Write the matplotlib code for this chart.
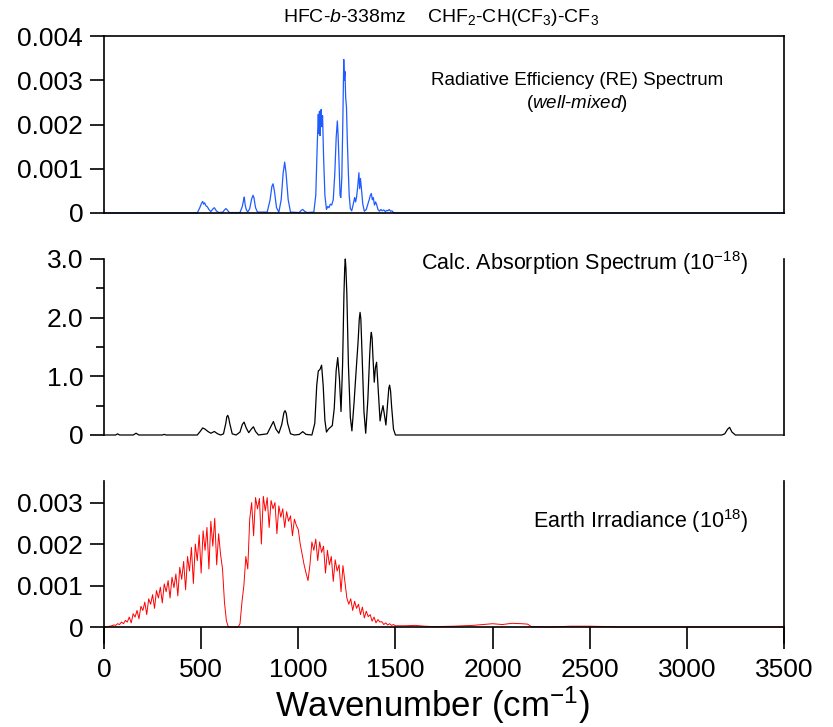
import matplotlib
matplotlib.use('Agg')
import matplotlib.pyplot as plt

plt.rcParams['font.family'] = ['Liberation Sans', 'DejaVu Sans']
plt.rcParams['mathtext.fontset'] = 'custom'
plt.rcParams['mathtext.rm'] = 'Liberation Sans'
plt.rcParams['mathtext.it'] = 'Liberation Sans:italic'

# Radiative efficiency spectrum
re_wn = [0, 160, 170, 180, 480, 493, 502, 508, 513, 518, 525, 532, 540, 550,
         560, 568, 578, 590, 612, 620, 628, 636, 645, 700, 712, 718, 722, 726,
         732, 740, 750, 760, 767, 772, 780, 790, 840, 855, 864, 870, 877, 888,
         900, 912, 922, 930, 937, 948, 960, 1005, 1015, 1023, 1032, 1045, 1080,
         1090, 1098, 1103, 1106, 1109, 1112, 1115, 1118, 1121, 1125, 1130, 1137,
         1145, 1152, 1158, 1165, 1172, 1180, 1188, 1195, 1201, 1205, 1210, 1215,
         1219, 1224, 1229, 1234, 1237, 1240, 1244, 1248, 1252, 1257, 1262, 1268,
         1275, 1283, 1290, 1295, 1300, 1306, 1312, 1316, 1320, 1326, 1332, 1340,
         1350, 1358, 1365, 1371, 1376, 1381, 1386, 1392, 1398, 1404, 1410, 1418,
         1425, 1432, 1440, 1448, 1455, 1462, 1468, 1475, 1482, 1490, 1500, 3500]
re_val = [0, 0, 0.00001, 0, 0, 0.00012, 0.00022, 0.00026, 0.00020, 0.00023,
          0.00016, 0.00014, 0.00008, 0.00003, 0.00009, 0.00012, 0.00005, 0.00001,
          0.00002, 0.00007, 0.00010, 0.00006, 0.00001, 0.00001, 0.00015, 0.00028,
          0.00036, 0.00020, 0.00008, 0.00002, 0.00010, 0.00032, 0.00040, 0.00034,
          0.00012, 0.00002, 0.00002, 0.00030, 0.00060, 0.00066, 0.00050, 0.00012,
          0.00002, 0.00030, 0.00090, 0.00115, 0.00090, 0.00030, 0.00002, 0.00001,
          0.00006, 0.00008, 0.00004, 0.00001, 0.00002, 0.00040, 0.00160, 0.00223,
          0.00180, 0.00230, 0.00175, 0.00228, 0.00234, 0.00195, 0.00220, 0.00130,
          0.00040, 0.00008, 0.00015, 0.00012, 0.00020, 0.00018, 0.00030, 0.00090,
          0.00170, 0.00208, 0.00175, 0.00110, 0.00040, 0.00035, 0.00080, 0.00200,
          0.00347, 0.00300, 0.00320, 0.00260, 0.00240, 0.00170, 0.00100, 0.00040,
          0.00010, 0.00005, 0.00020, 0.00035, 0.00025, 0.00036, 0.00060, 0.00091,
          0.00055, 0.00078, 0.00050, 0.00020, 0.00004, 0.00008, 0.00020, 0.00030,
          0.00040, 0.00044, 0.00030, 0.00035, 0.00018, 0.00025, 0.00018, 0.00008,
          0.00004, 0.00008, 0.00005, 0.00007, 0.00003, 0.00006, 0.00005, 0.00008,
          0.00004, 0.00005, 0.00001, 0, 0]

# Calculated absorption spectrum (1e-18)
abs_wn = [0, 60, 70, 80, 150, 165, 180, 300, 310, 320, 480, 495, 508, 520, 535,
          550, 568, 585, 600, 615, 627, 632, 637, 642, 647, 660, 680, 700, 712,
          721, 732, 745, 758, 769, 780, 795, 840, 855, 872, 885, 900, 915, 926,
          932, 938, 945, 960, 980, 1005, 1023, 1040, 1070, 1085, 1095, 1103,
          1112, 1120, 1128, 1137, 1145, 1155, 1165, 1175, 1185, 1195, 1203, 1212,
          1220, 1228, 1235, 1239, 1242, 1245, 1250, 1258, 1268, 1276, 1287, 1297,
          1308, 1314, 1318, 1322, 1328, 1338, 1347, 1358, 1368, 1373, 1376, 1380,
          1384, 1391, 1397, 1403, 1410, 1421, 1428, 1436, 1443, 1451, 1460, 1466,
          1470, 1475, 1480, 1490, 1500, 3180, 3195, 3210, 3220, 3232, 3250, 3500]
abs_val = [0, 0, 0.02, 0, 0, 0.03, 0, 0, 0.01, 0, 0, 0.06, 0.12, 0.10, 0.06,
           0.03, 0.06, 0.02, 0, 0.02, 0.20, 0.31, 0.335, 0.29, 0.20, 0.02, 0,
           0.05, 0.18, 0.22, 0.12, 0.04, 0.10, 0.14, 0.06, 0, 0.02, 0.12, 0.23,
           0.10, 0.03, 0.18, 0.38, 0.415, 0.37, 0.20, 0.02, 0, 0.01, 0.057, 0.01,
           0, 0.20, 0.85, 1.09, 1.12, 1.19, 0.85, 0.25, 0.05, 0.10, 0.13, 0.16,
           0.45, 1.10, 1.32, 0.95, 0.40, 1.20, 2.40, 2.85, 3.0, 2.85, 2.40, 1.20,
           0.30, 0.07, 0.55, 1.06, 1.60, 1.98, 2.09, 1.98, 1.40, 0.40, 0.03,
           0.60, 1.40, 1.68, 1.75, 1.65, 1.35, 0.90, 1.15, 1.24, 0.85, 0.24, 0.38,
           0.50, 0.35, 0.17, 0.55, 0.80, 0.85, 0.75, 0.50, 0.10, 0, 0, 0.02, 0.10,
           0.13, 0.05, 0, 0]

# Earth irradiance (1e18), 10 cm-1 steps from 0 to 1500, then sparse tail
irr_wn = list(range(0, 1510, 10)) + [1550, 1600, 1650, 1700, 1800, 1900, 1950,
                                     2000, 2050, 2100, 2150, 2180, 2200, 2300,
                                     2400, 2500, 2600, 2650, 3500]
irr_val = [0, 0, 0.00001, 0.00002, 0.00003, 0.00005, 0.00004, 0.00008, 0.00006,
           0.00012, 0.00008, 0.00016, 0.00012, 0.00024, 0.00010, 0.00032,
           0.00024, 0.00040, 0.00020, 0.00050, 0.00040, 0.00060, 0.00030,
           0.00068, 0.00055, 0.00078, 0.00045, 0.00088, 0.00070, 0.00096,
           0.00058, 0.00104, 0.00085, 0.00112, 0.00070, 0.00120, 0.00095,
           0.00128, 0.00075, 0.00144, 0.00115, 0.00158, 0.00090, 0.00170,
           0.00135, 0.00192, 0.00105, 0.00200, 0.00160, 0.00222, 0.00130,
           0.00232, 0.00185, 0.00240, 0.00140, 0.00255, 0.00195, 0.00262,
           0.00150, 0.00225, 0.00175, 0.00140, 0.00060, 0.00015, 0, 0, 0, 0, 0,
           0, 0.00008, 0.00060, 0.00100, 0.00170, 0.00140, 0.00260, 0.00300,
           0.00220, 0.00312, 0.00285, 0.00310, 0.00200, 0.00315, 0.00280,
           0.00312, 0.00240, 0.00305, 0.00285, 0.00300, 0.00225, 0.00292,
           0.00265, 0.00285, 0.00240, 0.00278, 0.00255, 0.00268, 0.00220,
           0.00260, 0.00245, 0.00235, 0.00200, 0.00175, 0.00150, 0.00130,
           0.00112, 0.00150, 0.00205, 0.00185, 0.00212, 0.00160, 0.00205,
           0.00180, 0.00195, 0.00130, 0.00185, 0.00150, 0.00170, 0.00110,
           0.00162, 0.00135, 0.00150, 0.00085, 0.00148, 0.00110, 0.00070,
           0.00055, 0.00068, 0.00040, 0.00062, 0.00045, 0.00055, 0.00030,
           0.00048, 0.00022, 0.00038, 0.00025, 0.00030, 0.00014, 0.00024,
           0.00010, 0.00018, 0.00012, 0.00013, 0.00006, 0.00010, 0.00005,
           0.00008, 0.00004, 0.00006, 0.00003,
           0.00003, 0.00004, 0.00002, 0.00001, 0.00002, 0.00004, 0.00006,
           0.00008, 0.00006, 0.00009, 0.00008, 0.00007, 0.00001, 0, 0.00002,
           0.00002, 0.00001, 0, 0]

x_ticks = [0, 500, 1000, 1500, 2000, 2500, 3000, 3500]
re_ticks = [0, 0.001, 0.002, 0.003, 0.004]
re_ticklabels = ['0', '0.001', '0.002', '0.003', '0.004']
abs_ticks = [0, 1, 2, 3]
abs_ticklabels = ['0', '1.0', '2.0', '3.0']
irr_ticks = [0, 0.001, 0.002, 0.003]
irr_ticklabels = ['0', '0.001', '0.002', '0.003']

W, H = 833, 727
fig = plt.figure(figsize=(W / 100, H / 100), dpi=100)

def box(x0, y0, x1, y1):
    # pixel box -> figure fraction
    return [x0 / W, 1 - y1 / H, (x1 - x0) / W, (y1 - y0) / H]

tick_fs = 19
lw_spine = 1.2

#------------------------------------------------------------------------------
# Top: RE spectrum
#------------------------------------------------------------------------------
ax1 = fig.add_axes(box(104, 36, 784, 213))
ax1.plot(re_wn, re_val, color='#1f5cff', lw=0.9, clip_on=False)
ax1.set_xlim(0, 3500)
ax1.set_ylim(0, 0.004)
ax1.set_xticks([])
ax1.set_yticks(re_ticks)
ax1.set_yticklabels(re_ticklabels)
for s in ax1.spines.values():
    s.set_linewidth(lw_spine)
ax1.tick_params(axis='y', length=10, width=lw_spine, labelsize=tick_fs, pad=5)
ax1.text(0.696, 0.75, 'Radiative Efficiency (RE) Spectrum',
         transform=ax1.transAxes, ha='center', va='center', fontsize=13.5)
ax1.text(0.696, 0.62, r'($\it{well}$-$\it{mixed}$)', transform=ax1.transAxes,
         ha='center', va='center', fontsize=13.5)
fig.text(441 / W, 1 - 17 / H,
         r'HFC-$\it{b}$-338mz    CHF$_2$-CH(CF$_3$)-CF$_3$',
         ha='center', va='center', fontsize=14)

#------------------------------------------------------------------------------
# Middle: absorption spectrum
#------------------------------------------------------------------------------
ax2 = fig.add_axes(box(104, 259, 784, 435))
ax2.plot(abs_wn, abs_val, color='black', lw=0.9, clip_on=False)
ax2.set_xlim(0, 3500)
ax2.set_ylim(0, 3.0)
ax2.set_xticks([])
ax2.set_yticks(abs_ticks)
ax2.set_yticklabels(abs_ticklabels)
ax2.set_yticks([0.5, 1.5, 2.5], minor=True)
ax2.spines['top'].set_visible(False)
ax2.spines['bottom'].set_visible(False)
ax2.spines['left'].set_linewidth(lw_spine)
ax2.spines['right'].set_linewidth(lw_spine)
ax2.tick_params(axis='y', which='major', length=10, width=lw_spine,
                labelsize=tick_fs, pad=5)
ax2.tick_params(axis='y', which='minor', length=6, width=lw_spine)
ax2.text(0.947, 0.975, r'Calc. Absorption Spectrum (10$^{-18}$)',
         transform=ax2.transAxes, ha='right', va='center', fontsize=15.5)

#------------------------------------------------------------------------------
# Bottom: Earth irradiance
#------------------------------------------------------------------------------
ax3 = fig.add_axes(box(104, 481, 784, 643))
ax3.plot(irr_wn, irr_val, color='red', lw=0.7)
ax3.set_xlim(0, 3500)
ax3.set_ylim(-0.000385, 0.00352)
ax3.set_xticks(x_ticks)
ax3.set_yticks(irr_ticks)
ax3.set_yticklabels(irr_ticklabels)
ax3.spines['top'].set_visible(False)
ax3.spines['bottom'].set_position(('data', 0))
for s in ['left', 'right', 'bottom']:
    ax3.spines[s].set_linewidth(lw_spine)
ax3.tick_params(axis='y', length=10, width=lw_spine, labelsize=tick_fs, pad=5)
ax3.tick_params(axis='x', length=16, width=lw_spine, labelsize=tick_fs, pad=6)
ax3.text(0.947, 0.75, r'Earth Irradiance (10$^{18}$)', transform=ax3.transAxes,
         ha='right', va='center', fontsize=15.5)

# Axis name
fig.text(432 / W, 1 - 705 / H, r'Wavenumber (cm$^{-1}$)', ha='center',
         va='center', fontsize=25)

plt.savefig('out.png', dpi=100)
